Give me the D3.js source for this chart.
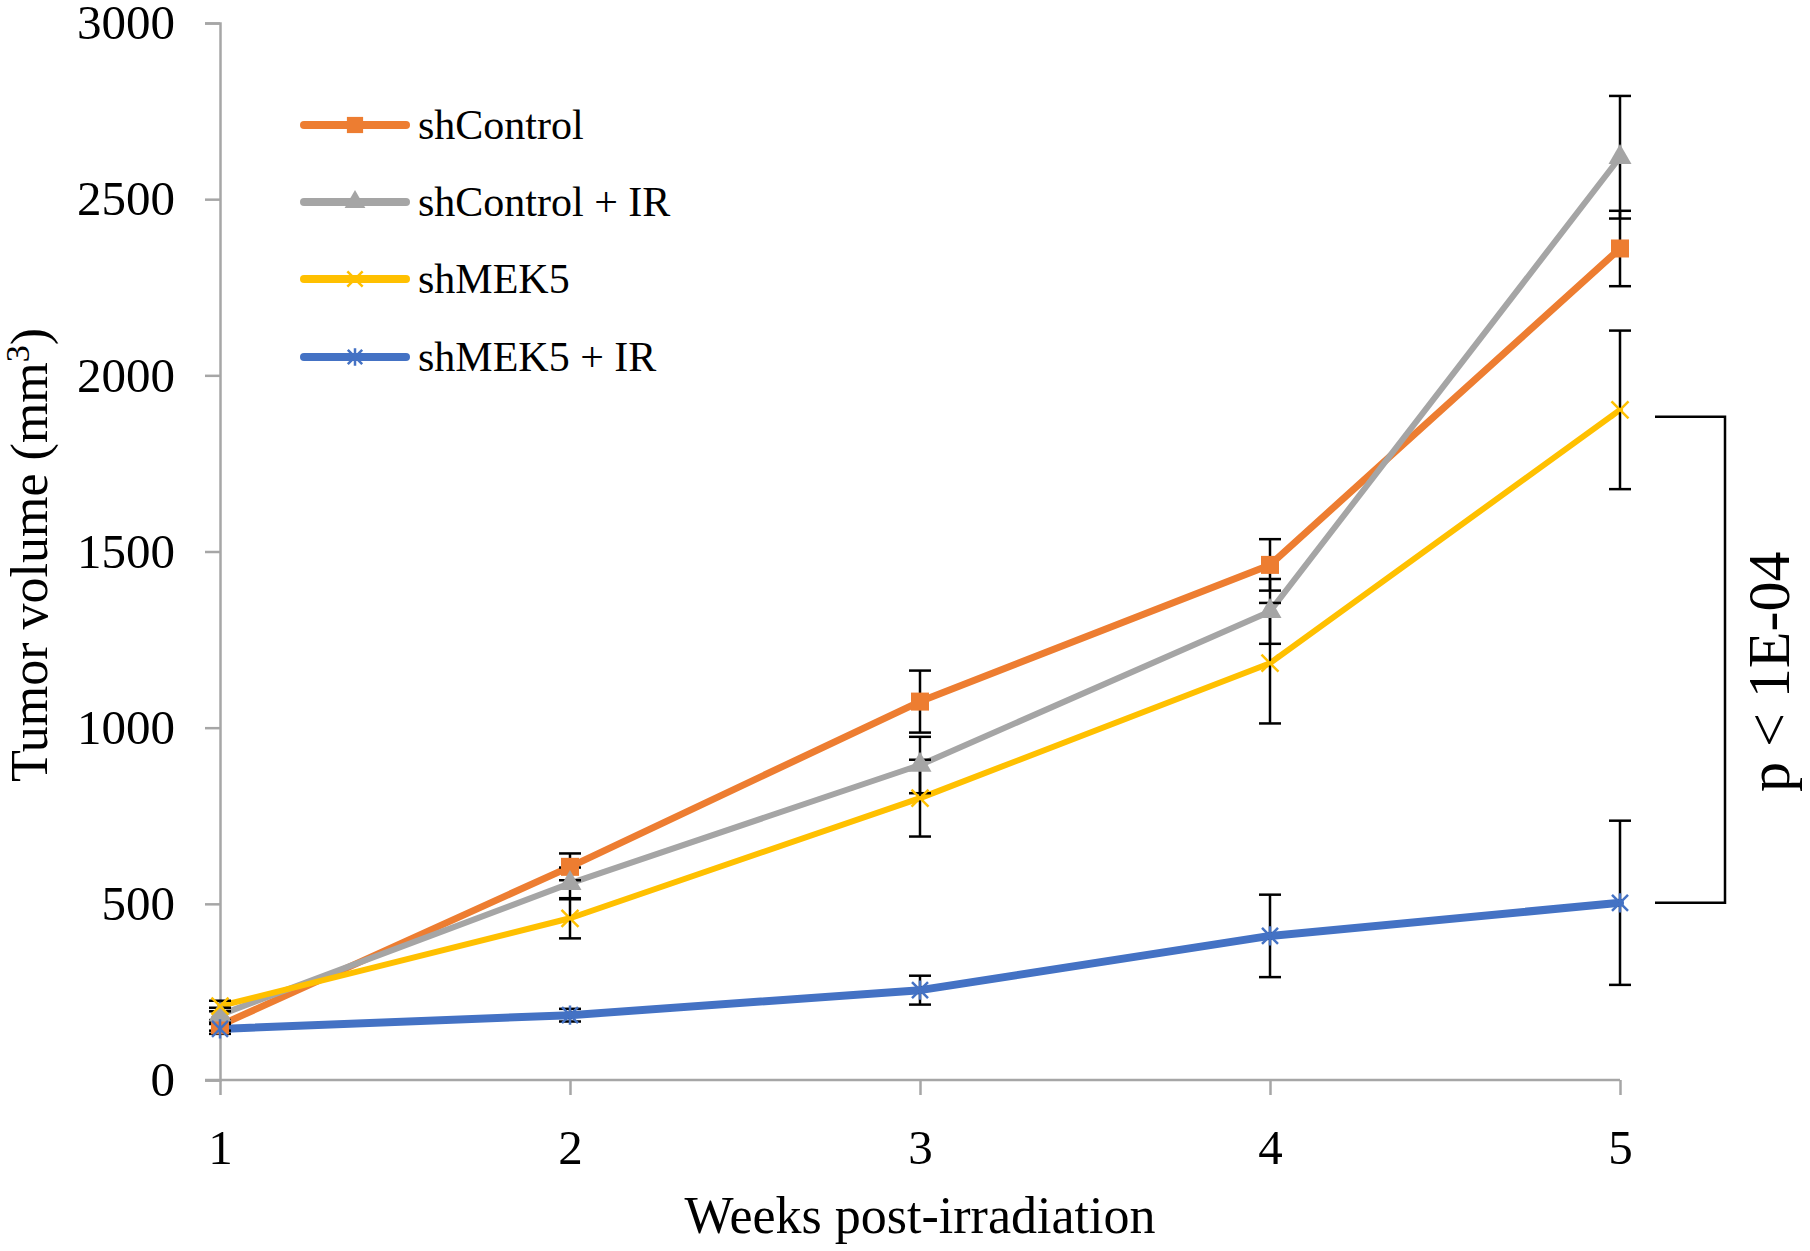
<!DOCTYPE html>
<html>
<head>
<meta charset="utf-8">
<script src="https://cdn.jsdelivr.net/npm/d3@7"></script>
<style>
  html, body { margin: 0; padding: 0; background: #fff; }
  text { font-family: "Liberation Serif", "Times New Roman", serif; fill: #000; }
</style>
</head>
<body>
<svg id="chart" width="1810" height="1251"></svg>
<script>
// ---- Data ----
const weeks = [1, 2, 3, 4, 5];
const seriesNames = ["shControl", "shControl + IR", "shMEK5", "shMEK5 + IR"];
const shControl      = [155, 605, 1074, 1462, 2360];
const shControlErr   = [15, 38, 88, 73, 107];
const shControlIR    = [185, 558, 894, 1330, 2619];
const shControlIRErr = [20, 45, 80, 92, 174];
const shMEK5         = [210, 459, 800, 1183, 1902];
const shMEK5Err      = [15, 57, 109, 171, 225];
const shMEK5IR       = [145, 184, 255, 409, 503];
const shMEK5IRErr    = [14, 18, 41, 117, 233];
const yTicks = [0, 500, 1000, 1500, 2000, 2500, 3000];
const pLabel = "p < 1E-04";
const xTitle = "Weeks post-irradiation";

const colors = ["#ED7D31", "#A5A5A5", "#FFC000", "#4472C4"];
const widths = [7, 6, 6, 8];
const markers = ["square", "triangle", "x", "star"];
const values = [shControl, shControlIR, shMEK5, shMEK5IR];
const errs = [shControlErr, shControlIRErr, shMEK5Err, shMEK5IRErr];

const svg = d3.select("#chart");
const x = d3.scaleLinear().domain([1, 5]).range([220, 1620]);
const y = d3.scaleLinear().domain([0, 3000]).range([1080, 23]);

// ---- Axes ----
const yAxis = svg.append("g").attr("transform", "translate(220,0)")
  .call(d3.axisLeft(y).tickValues(yTicks).tickSize(15).tickPadding(30).tickFormat(d3.format("d")));
const xAxis = svg.append("g").attr("transform", "translate(0,1080)")
  .call(d3.axisBottom(x).tickValues(weeks).tickSize(15).tickPadding(34).tickFormat(d3.format("d")));
[yAxis, xAxis].forEach(g => {
  g.selectAll("path.domain").attr("stroke", "#A6A6A6").attr("stroke-width", 2.5);
  g.selectAll(".tick line").attr("stroke", "#A6A6A6").attr("stroke-width", 2.5);
  g.selectAll(".tick text").style("font-family", '"Liberation Serif", serif').style("font-size", "49px").attr("fill", "#000");
});
xAxis.select("path.domain").attr("d", "M-15,0H1620").attr("transform", "translate(220,0)");
xAxis.select("path.domain").attr("d", "M205,0H1620").attr("transform", null);

// ---- Marker drawing ----
function drawMarker(g, type, cx, cy, color, scale) {
  const s = scale || 1;
  if (type === "square") {
    g.append("rect").attr("x", cx - 9 * s).attr("y", cy - 9 * s).attr("width", 18 * s).attr("height", 18 * s).attr("fill", color);
  } else if (type === "triangle") {
    g.append("path").attr("d", d3.symbol().type(d3.symbolTriangle).size(230 * s * s)())
      .attr("transform", `translate(${cx},${cy})`).attr("fill", color);
  } else if (type === "x") {
    const r = 8.5 * s;
    g.append("path").attr("d", `M${cx - r},${cy - r}L${cx + r},${cy + r}M${cx - r},${cy + r}L${cx + r},${cy - r}`)
      .attr("stroke", color).attr("stroke-width", 2.5).attr("fill", "none");
  } else if (type === "star") {
    const r = 8 * s;
    g.append("path").attr("d", `M${cx - r},${cy - r}L${cx + r},${cy + r}M${cx - r},${cy + r}L${cx + r},${cy - r}M${cx},${cy - r * 1.2}L${cx},${cy + r * 1.2}`)
      .attr("stroke", color).attr("stroke-width", 2.5).attr("fill", "none");
  }
}

// ---- Lines ----
const line = d3.line().x((d, i) => x(weeks[i])).y(d => y(d));
const linesG = svg.append("g");
values.forEach((vals, si) => {
  linesG.append("path").datum(vals).attr("d", line)
    .attr("fill", "none").attr("stroke", colors[si]).attr("stroke-width", widths[si])
    .attr("stroke-linejoin", "round").attr("stroke-linecap", "round");
});

// ---- Error bars ----
const errG = svg.append("g");
values.forEach((vals, si) => {
  vals.forEach((v, i) => {
    const cx = x(weeks[i]);
    const top = y(v + errs[si][i]), bot = y(v - errs[si][i]);
    errG.append("line").attr("x1", cx).attr("x2", cx).attr("y1", top).attr("y2", bot)
      .attr("stroke", "#000").attr("stroke-width", 2.5);
    [top, bot].forEach(yy => errG.append("line").attr("x1", cx - 11).attr("x2", cx + 11)
      .attr("y1", yy).attr("y2", yy).attr("stroke", "#000").attr("stroke-width", 2.5));
  });
});

// ---- Markers ----
const markG = svg.append("g");
values.forEach((vals, si) => {
  vals.forEach((v, i) => drawMarker(markG, markers[si], x(weeks[i]), y(v), colors[si], 1));
});

// ---- Legend ----
const legendY = [125, 202, 279, 357];
const legG = svg.append("g");
seriesNames.forEach((name, si) => {
  const ly = legendY[si];
  legG.append("line").attr("x1", 304).attr("x2", 406).attr("y1", ly).attr("y2", ly)
    .attr("stroke", colors[si]).attr("stroke-width", 8).attr("stroke-linecap", "round");
  drawMarker(legG, markers[si], 355, ly, colors[si], 0.9);
  legG.append("text").attr("x", 418).attr("y", ly).attr("dy", "0.33em")
    .style("font-size", "42px").text(name);
});

// ---- Axis titles ----
svg.append("text").attr("x", 920).attr("y", 1233).attr("text-anchor", "middle")
  .style("font-size", "52px").text(xTitle);
const yt = svg.append("text").attr("transform", "translate(29,555) rotate(-90)")
  .attr("text-anchor", "middle").attr("dy", "0.35em").style("font-size", "52px");
yt.append("tspan").text("Tumor volume (mm");
yt.append("tspan").attr("baseline-shift", "super").style("font-size", "34px").text("3");
yt.append("tspan").text(")");

// ---- Significance bracket ----
const bracketTop = y(shMEK5[4]) + 7, bracketBot = y(shMEK5IR[4]);
svg.append("path").attr("d", `M1655,${bracketTop}H1725V${bracketBot}H1655`)
  .attr("fill", "none").attr("stroke", "#000").attr("stroke-width", 2.5);
svg.append("text").attr("transform", `translate(1768,${(bracketTop + bracketBot) / 2 + 12}) rotate(-90)`)
  .attr("text-anchor", "middle").attr("dy", "0.35em").style("font-size", "60px").text(pLabel);
</script>
</body>
</html>
